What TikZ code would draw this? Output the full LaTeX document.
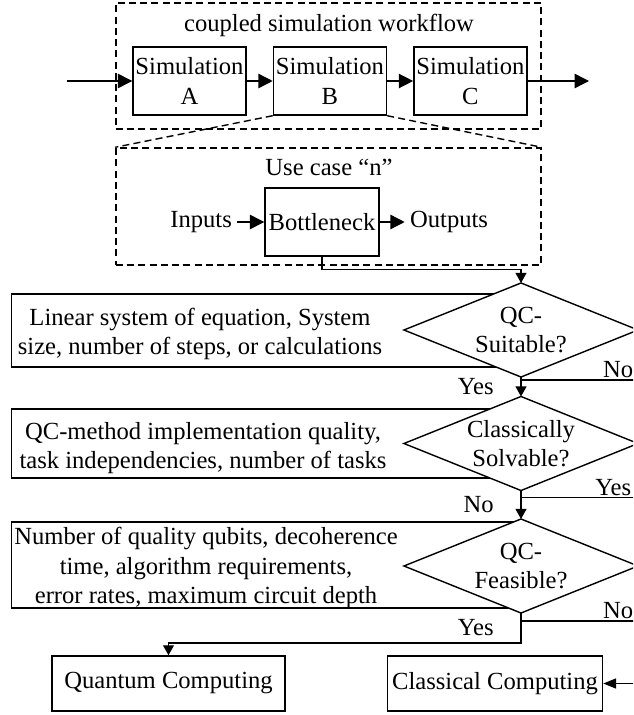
\documentclass[tikz,border=0pt]{standalone}
\usepackage{fontspec}
\setmainfont{Liberation Serif}
\usetikzlibrary{
arrows.meta,
positioning,
shapes.geometric
}

\begin{document}
\begin{tikzpicture}[x=0.025cm, y=-0.025cm, font=\fontsize{17.5}{21}\selectfont, line width=1pt]
		\tikzset{framed/.style={draw,dash pattern=on 5pt off 3pt,minimum width=10.625cm}}
		\tikzset{simbox/.style={draw,minimum width=2.825cm,minimum height=1.7cm,inner sep=1pt,align=center}}
		\tikzset{infobox/.style={draw,anchor=west,minimum width=12.75cm}}
		\tikzset{decision/.style={draw,fill=white,shape=diamond,aspect=2.49,minimum width=5.85cm,minimum height=2.35cm,inner sep=0pt,outer sep=0pt,align=center}}
		\tikzset{endbox/.style={draw,minimum height=1.375cm}}
		\tikzset{bigtip/.style={-{Triangle[length=0.36cm,width=0.36cm]}}}
		\tikzset{smalltip/.style={-{Triangle[length=0.25cm,width=0.27cm]}}}
		\tikzset{railtip/.style={-{Triangle[length=0.32cm,width=0.25cm]}}}
		\tikzset{branch/.style={anchor=south west,inner sep=1pt}}
		
		\useasboundingbox (0,0) rectangle (633,715);
		\clip (0,0) rectangle (633,715);
		
		% coupled workflow
		\node[framed,minimum height=3.15cm] (workflow) at (328.5,66) {};
		\node (wftitle) at (329,25) {coupled simulation workflow};
		
		\node[simbox] (simA) at (189.5,81) {Simulation\\A};
		\node[simbox,right=0.65cm of simA] (simB) {Simulation\\B};
		\node[simbox,right=0.65cm of simB] (simC) {Simulation\\C};
		
		\coordinate (wfin) at (67,81);
		\coordinate (wfout) at (589,81);
		
		\draw[bigtip] (wfin) -- (simA);
		\draw[bigtip] (simA) -- (simB);
		\draw[bigtip] (simB) -- (simC);
		\draw[bigtip] (simC) -- (wfout);
		
		% use case n
		\node[framed,minimum height=2.925cm] (usecase) at (328.5,206.5) {};
		\node (uctitle) at (329,167) {Use case “n”};
		
		\draw[dash pattern=on 5pt off 3pt] (simB.south west) -- (usecase.north west);
		\draw[dash pattern=on 5pt off 3pt] (simB.south east) -- (usecase.north east);
		
		\node[simbox,minimum width=2.85cm] (bneck) at (322,222) {Bottleneck};
		\node[left=0.675cm of bneck] (inputs) {Inputs};
		\node[right=0.625cm of bneck] (outputs) {Outputs};
		
		\draw[bigtip] (inputs) -- (bneck);
		\draw[bigtip] (bneck) -- (outputs);
		
		% criteria
		\node[infobox,minimum height=1.825cm] (suitbox) at (11,330.5) {};
		\node[infobox,minimum height=1.725cm] (solvbox) at (11,443.5) {};
		\node[infobox,minimum height=2.15cm] (feasbox) at (11,565) {};
		
		\node[align=center] (suittext) at (200,334) {Linear system of equation, System\\size, number of steps, or calculations};
		\node[align=center] (solvtext) at (203,448) {QC-method implementation quality,\\task independencies, number of tasks};
		\node[align=center] (feastext) at (206,568) {Number of quality qubits, decoherence\\time, algorithm requirements,\\error rates, maximum circuit depth};
		
		% decisions
		\node[decision] (suitable) at (521,330) {QC-\\Suitable?};
		\node[decision] (solvable) at (521,443.5) {Classically\\Solvable?};
		\node[decision] (feasible) at (521,566) {QC-\\Feasible?};
		
		\node[endbox,minimum width=5.825cm] (quantum) at (168.5,683.5) {Quantum Computing};
		\node[endbox,minimum width=5.35cm] (classical) at (495,683.5) {Classical Computing};
		
		\coordinate (rail) at (650,683.5);
		
		\draw[smalltip] (bneck.south) -- ++(0,13) -| (suitable.north);
		\draw[smalltip] (suitable.south) -- node[left=0.55cm] {Yes} (solvable.north);
		\draw[smalltip] (solvable.south) -- node[left=0.55cm] {No} (feasible.north);
		\draw[smalltip] (feasible.south) -- ++(0,30) node[midway,left=0.55cm] {Yes} -| (quantum.north);
		
		\draw ([yshift=-0.075cm]suitable.south) coordinate (nosuit) -- node[branch,pos=0.62] {No} (nosuit -| rail);
		\draw ([yshift=-0.175cm]solvable.south) coordinate (yessolv) -- node[branch,pos=0.56] {Yes} (yessolv -| rail);
		\draw ([yshift=-0.2cm]feasible.south) coordinate (nofeas) -- node[branch,pos=0.62] {No} (nofeas -| rail);
		\draw[railtip] (nosuit -| rail) -- (rail) -- (classical.east);
	\end{tikzpicture}
\end{document}
